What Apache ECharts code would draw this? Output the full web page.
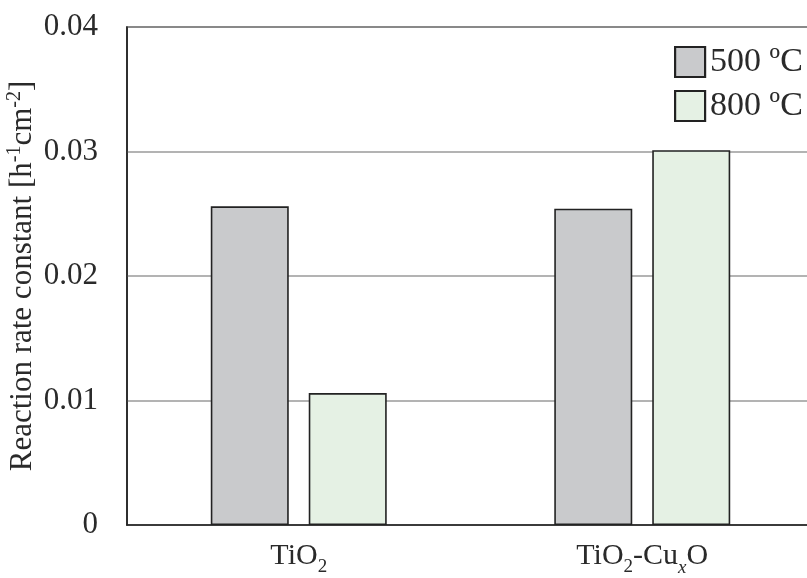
<!DOCTYPE html>
<html>
<head>
<meta charset="utf-8">
<style>
  html, body { margin: 0; padding: 0; background: #fff; }
  #chart { width: 807px; height: 578px; }
</style>
<script src="https://cdn.jsdelivr.net/npm/echarts@6/dist/echarts.min.js"></script>
</head>
<body>
<div id="chart"></div>
<script>
// Samples and their rich-text axis labels (with subscripts)
const categories = ['TiO2', 'TiO2-CuxO'];
const categoryLabels = ['{n|TiO}{s|2}', '{n|TiO}{s|2}{n|-Cu}{si|x}{n|O}'];

// Annealing temperatures (legend entries)
const seriesNames = ['500 ºC', '800 ºC'];

// Reaction rate constants [h^-1 cm^-2]
const values500 = [0.0256, 0.0254];
const values800 = [0.0106, 0.0301];

// Y axis range
const yMin = 0;
const yMax = 0.04;
const yStep = 0.01;

const FONT = '"Liberation Serif", "Times New Roman", serif';
const INK = '#2a2a2a';

const chart = echarts.init(document.getElementById('chart'), null, { renderer: 'canvas' });

const barStyle = (fill) => ({
  color: fill,
  borderColor: '#222',
  borderWidth: 1.6
});

chart.setOption({
  animation: false,
  backgroundColor: '#fff',
  grid: {
    left: 127,
    top: 27,
    width: 687,
    height: 498,
    outerBoundsMode: 'none',
    containLabel: false,
    show: true,
    borderColor: '#222',
    borderWidth: 1.5,
    backgroundColor: 'transparent'
  },
  legend: {
    orient: 'vertical',
    left: 669,
    top: 40,
    itemWidth: 30,
    itemHeight: 30,
    itemGap: 10,
    icon: 'rect',
    itemStyle: { borderColor: '#222', borderWidth: 2.2 },
    textStyle: { fontFamily: FONT, fontSize: 34, color: INK },
    data: seriesNames
  },
  xAxis: {
    type: 'category',
    data: categories,
    axisLine: { show: true, lineStyle: { color: '#222', width: 1.5 } },
    axisTick: { show: false },
    axisLabel: {
      margin: 16,
      formatter: (v, i) => categoryLabels[i],
      rich: {
        n: { fontFamily: FONT, fontSize: 30, color: INK, lineHeight: 34, verticalAlign: 'top' },
        s: { fontFamily: FONT, fontSize: 19, color: INK, padding: [17, 0, 0, 0] },
        si: { fontFamily: FONT, fontSize: 19, fontStyle: 'italic', color: INK, padding: [17, 0, 0, 0] }
      }
    }
  },
  yAxis: {
    type: 'value',
    min: yMin,
    max: yMax,
    interval: yStep,
    axisLine: { show: true, lineStyle: { color: '#222', width: 1.5 } },
    axisTick: { show: false },
    splitLine: { show: true, lineStyle: { color: '#9a9a9a', width: 1.5 } },
    axisLabel: {
      margin: 29,
      fontFamily: FONT,
      fontSize: 31,
      color: INK,
      formatter: (v) => (v === 0 ? '0' : v.toFixed(2))
    },
    name: '{t|Reaction rate constant [h}{u|-1}{t|cm}{u|-2}{t|]}',
    nameLocation: 'middle',
    nameRotate: 90,
    nameGap: 86,
    nameMoveOverlap: false,
    nameTextStyle: {
      rich: {
        t: { fontFamily: FONT, fontSize: 31, color: INK, lineHeight: 36 },
        u: { fontFamily: FONT, fontSize: 20, color: INK, lineHeight: 22, verticalAlign: 'top' }
      }
    }
  },
  series: [
    {
      name: seriesNames[0],
      type: 'bar',
      data: values500,
      barWidth: 78,
      barGap: '25.6%',
      itemStyle: barStyle('#c9cacc')
    },
    {
      name: seriesNames[1],
      type: 'bar',
      data: values800,
      barWidth: 78,
      barGap: '25.6%',
      itemStyle: barStyle('#e5f1e4')
    }
  ]
});
</script>
</body>
</html>
